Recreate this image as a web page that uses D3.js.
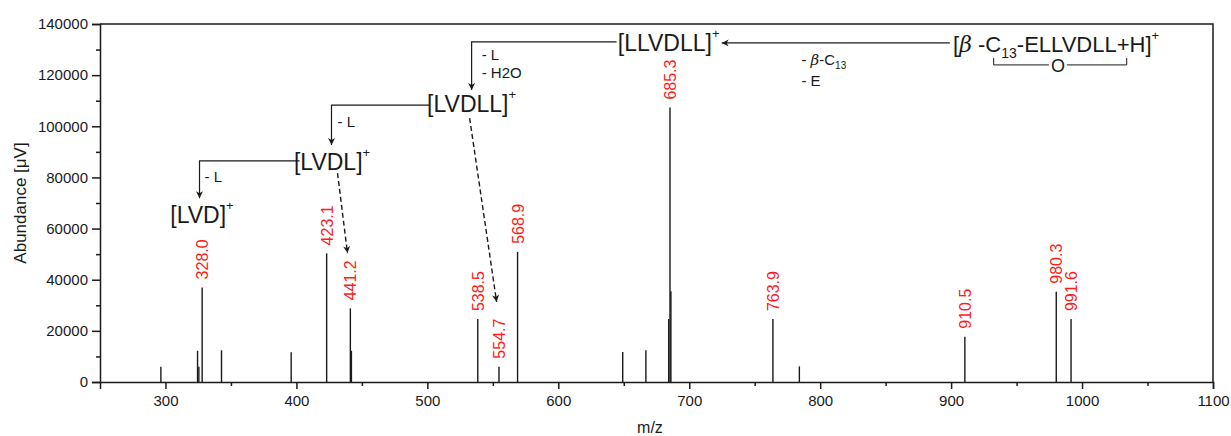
<!DOCTYPE html>
<html>
<head>
<meta charset="utf-8">
<script src="https://cdn.jsdelivr.net/npm/d3@7"></script>
<style>
  body { margin: 0; background: #fff; }
  svg { font-family: "Liberation Sans", Arial, sans-serif; }
</style>
</head>
<body>
<svg id="chart" width="1231" height="436"></svg>
<script>
// peaks (m/z and abundance in µV)
const mzValues = [296.5, 324.5, 325.5, 328.0, 342.8, 396.0, 423.1, 441.2, 442.0, 538.5, 554.7, 568.9,
  649.2, 666.9, 684.3, 685.3, 686.0, 763.9, 784.1, 910.5, 980.3, 991.6];
const abundances = [6000, 12200, 6000, 37000, 12400, 11600, 50300, 28800, 12200, 24600, 6000, 50900,
  11700, 12400, 24600, 107300, 35500, 24600, 6100, 17700, 35300, 24600];
const labelledPeaks = ['328.0', '423.1', '441.2', '538.5', '554.7', '568.9', '685.3', '763.9', '910.5', '980.3', '991.6'];

const xTicks = [300, 400, 500, 600, 700, 800, 900, 1000, 1100];
const xMinor = [350, 450, 550, 650, 750, 850, 950, 1050];
const yTicks = [0, 20000, 40000, 60000, 80000, 100000, 120000, 140000];
const yMinor = [10000, 30000, 50000, 70000, 90000, 110000, 130000];

// fragment ions (anchored in data space)
const ionNames = ['LLVDLL', 'LVDLL', 'LVDL', 'LVD'];
const ionMz = [684.3, 533.8, 427.2, 327.9];
const ionAb = [129500, 105600, 82900, 62300];

// solid elbow arrows: [mz, ab] points
const elbowArrows = [
  [[899, 132600], [724.8, 132600]],
  [[644.5, 133000], [533.8, 133000], [533.8, 114200]],
  [[501.7, 108300], [426.8, 108300], [426.8, 92700]],
  [[402.4, 86500], [326.0, 86500], [326.0, 71900]]
];
// dashed arrows to the matching peaks
const dashedArrows = [
  [[431.4, 81700], [439.0, 50400]],
  [[532.3, 103200], [552.9, 31300]]
];
// neutral losses
const lossText = ['- L', '- H2O', '- L', '- L'];
const lossMz = [541.5, 541.5, 431.4, 329.8];
const lossAb = [125900, 118900, 99700, 78200];

const svg = d3.select('#chart');
const margin = { left: 100, right: 18, top: 24, bottom: 54 };
const width = 1231 - margin.left - margin.right;
const height = 436 - margin.top - margin.bottom;

const x = d3.scaleLinear().domain([250, 1100]).range([margin.left, margin.left + width]);
const y = d3.scaleLinear().domain([0, 140000]).range([margin.top + height, margin.top]);

const ink = '#1a1a1a';

// frame (top and right)
svg.append('path')
  .attr('d', `M${x(250)},${y(140000)}H${x(1100)}V${y(0)}`)
  .attr('fill', 'none').attr('stroke', ink).attr('stroke-width', 1.5);

// axes
svg.append('g')
  .attr('transform', `translate(0,${y(0)})`)
  .call(d3.axisBottom(x).tickValues(xTicks).tickSize(7).tickPadding(6).tickFormat(d3.format('d')));
svg.append('g')
  .attr('transform', `translate(0,${y(0)})`)
  .call(d3.axisBottom(x).tickValues(xMinor).tickSize(4).tickFormat(''))
  .call(g => g.select('.domain').remove());
svg.append('g')
  .attr('transform', `translate(${x(250)},0)`)
  .call(d3.axisLeft(y).tickValues(yTicks).tickSize(8).tickPadding(4).tickFormat(d3.format('d')));
svg.append('g')
  .attr('transform', `translate(${x(250)},0)`)
  .call(d3.axisLeft(y).tickValues(yMinor).tickSize(4).tickFormat(''))
  .call(g => g.select('.domain').remove());

svg.selectAll('.domain, .tick line').attr('stroke', ink).attr('stroke-width', 1.5);
svg.selectAll('.tick text').attr('font-size', 15).attr('fill', ink)
  .attr('font-family', '"Liberation Sans", Arial, sans-serif');

// axis titles
svg.append('text')
  .attr('x', x(670)).attr('y', 433)
  .attr('text-anchor', 'middle').attr('font-size', 16).attr('fill', ink)
  .text('m/z');
svg.append('text')
  .attr('transform', `translate(26,${y(70000)}) rotate(-90)`)
  .attr('text-anchor', 'middle').attr('font-size', 17).attr('fill', ink)
  .text('Abundance [\u03bcV]');

// peaks
const peaks = mzValues.map((m, i) => ({ mz: m, ab: abundances[i] }));
svg.append('g').selectAll('line')
  .data(peaks)
  .join('line')
  .attr('x1', d => x(d.mz)).attr('x2', d => x(d.mz))
  .attr('y1', y(0)).attr('y2', d => y(d.ab))
  .attr('stroke', ink).attr('stroke-width', 1.4);

// peak labels
svg.append('g').selectAll('text')
  .data(peaks.filter(d => labelledPeaks.includes(d.mz.toFixed(1))))
  .join('text')
  .attr('transform', d => `translate(${x(d.mz) + 6},${y(d.ab) - 8}) rotate(-90)`)
  .attr('font-size', 16).attr('fill', '#ff1a1a')
  .text(d => d.mz.toFixed(1));

// arrow head
svg.append('defs').append('marker')
  .attr('id', 'head')
  .attr('viewBox', '0 0 10 10')
  .attr('refX', 10).attr('refY', 5)
  .attr('markerWidth', 9).attr('markerHeight', 7)
  .attr('markerUnits', 'userSpaceOnUse')
  .attr('orient', 'auto')
  .append('path').attr('d', 'M0,0L10,5L0,10L3,5Z').attr('fill', ink);

const line = d3.line().x(d => x(d[0])).y(d => y(d[1]));

svg.append('g').selectAll('path')
  .data(elbowArrows)
  .join('path')
  .attr('d', line)
  .attr('fill', 'none').attr('stroke', ink).attr('stroke-width', 1.2)
  .attr('marker-end', 'url(#head)');

svg.append('g').selectAll('path')
  .data(dashedArrows)
  .join('path')
  .attr('d', line)
  .attr('fill', 'none').attr('stroke', ink).attr('stroke-width', 1.4)
  .attr('stroke-dasharray', '5,3')
  .attr('marker-end', 'url(#head)');

// ion labels
const ions = svg.append('g').selectAll('text')
  .data(ionNames.map((n, i) => ({ name: n, mz: ionMz[i], ab: ionAb[i] })))
  .join('text')
  .attr('x', d => x(d.mz)).attr('y', d => y(d.ab))
  .attr('text-anchor', 'middle').attr('font-size', 23).attr('fill', ink);
ions.append('tspan').text(d => `[${d.name}]`);
ions.append('tspan').attr('dy', -13).attr('font-size', 13).text('+');

// loss labels
svg.append('g').selectAll('text')
  .data(lossText.map((t, i) => ({ t, mz: lossMz[i], ab: lossAb[i] })))
  .join('text')
  .attr('x', d => x(d.mz)).attr('y', d => y(d.ab))
  .attr('font-size', 15).attr('fill', ink)
  .text(d => d.t);

// precursor loss: - β-C13 / - E
const lossBeta = svg.append('text')
  .attr('x', x(785.7)).attr('y', y(124000))
  .attr('font-size', 15).attr('fill', ink);
lossBeta.append('tspan').text('- ');
lossBeta.append('tspan').attr('font-style', 'italic').attr('font-family', 'DejaVu Serif, serif').text('\u03b2');
lossBeta.append('tspan').text('-C');
lossBeta.append('tspan').attr('dy', 4).attr('font-size', 10).text('13');
svg.append('text')
  .attr('x', x(785.7)).attr('y', y(115800))
  .attr('font-size', 15).attr('fill', ink)
  .text('- E');

// precursor ion
const prec = svg.append('text')
  .attr('x', x(901.5)).attr('y', y(129100))
  .attr('font-size', 22).attr('fill', ink);
prec.append('tspan').text('[');
prec.append('tspan').attr('font-style', 'italic').attr('font-family', 'DejaVu Serif, serif').text('\u03b2');
prec.append('tspan').text(' -C');
prec.append('tspan').attr('dy', 6).attr('font-size', 14).text('13');
prec.append('tspan').attr('dy', -6).text('-ELLVDLL+H]');
prec.append('tspan').attr('dy', -12).attr('font-size', 13).text('+');

// lactone bracket with O
const bracketL = 932.5, bracketR = 1034.1, bracketTop = 126700, bracketBot = 124000, oMz = 981.6;
svg.append('path')
  .attr('d', `M${x(bracketL)},${y(bracketTop)}V${y(bracketBot)}H${x(oMz) - 9}` +
    `M${x(oMz) + 9},${y(bracketBot)}H${x(bracketR)}V${y(bracketTop)}`)
  .attr('fill', 'none').attr('stroke', ink).attr('stroke-width', 1);
svg.append('text')
  .attr('x', x(oMz)).attr('y', y(121200))
  .attr('text-anchor', 'middle').attr('font-size', 18).attr('fill', ink)
  .text('O');
</script>
</body>
</html>
